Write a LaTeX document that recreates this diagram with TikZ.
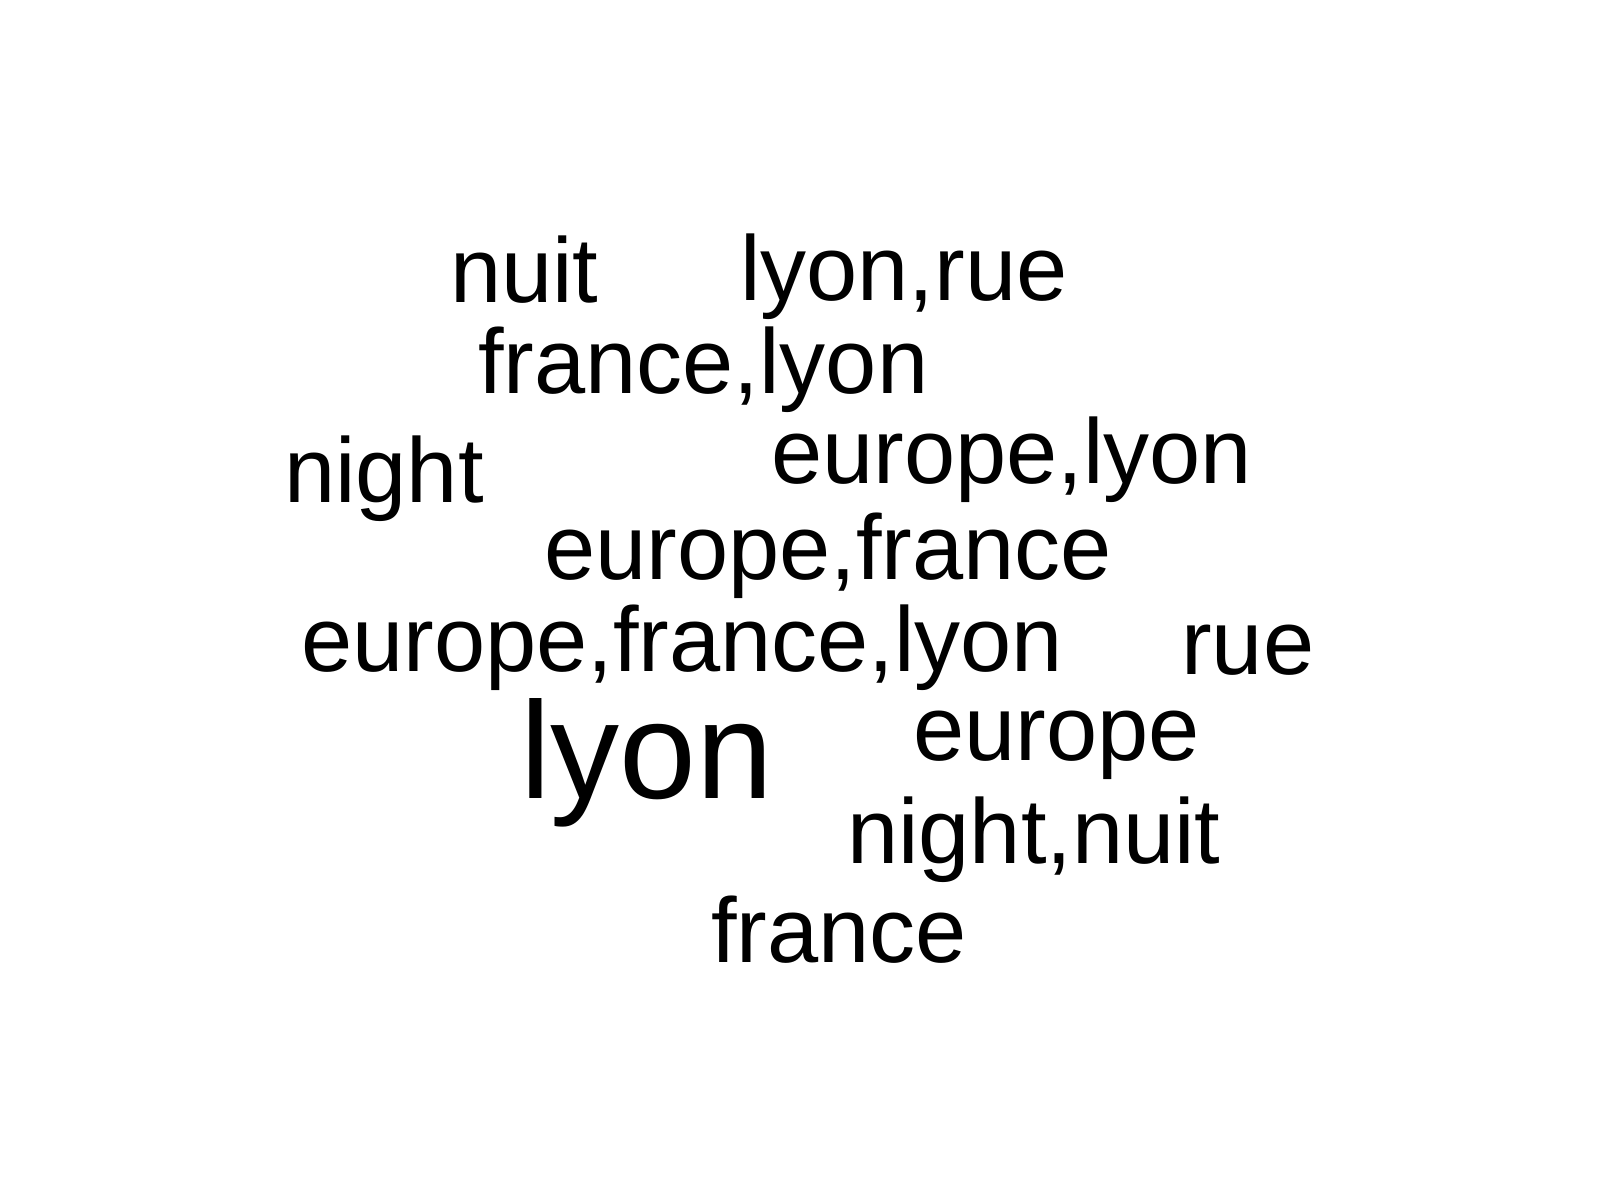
\documentclass[tikz,border=0pt]{standalone}
\usepackage{fontspec}
\setmainfont{Liberation Sans}
\begin{document}
\begin{tikzpicture}[x=1pt,y=1pt,yscale=-1,
  word/.style={anchor=base west,inner sep=0pt,font=\fontsize{92}{92}\selectfont},
  topword/.style={anchor=base west,inner sep=0pt,font=\fontsize{138}{138}\selectfont}]
			%set diagram left start at 0, and has height of 1200
			\useasboundingbox (0,0) rectangle (1600,1200);
			
			% Text Node
			\draw (450,302) node (nuit) [word]    {nuit};
			% Text Node
			\draw (740,300) node (lyonrue) [word]    {lyon,rue};
			% Text Node
			\draw (478,393) node (francelyon) [word]    {france,lyon};
			% Text Node
			\draw (284,502) node (night) [word]    {night};
			% Text Node
			\draw (771,483) node (europelyon) [word]    {europe,lyon};
			% Text Node
			\draw (544,579) node (europefrance) [word]    {europe,france};
			% Text Node
			\draw (301,671) node (europefrancelyon) [word]    {europe,france,lyon};
			% Text Node
			\draw (1181,674) node (rue) [word]    {rue};
			% Text Node
			\draw (520,798) node (lyon) [topword]    {lyon};
			% Text Node
			\draw (913,760) node (europe) [word]    {europe};
			% Text Node
			\draw (847,863) node (nightnuit) [word]    {night,nuit};
			% Text Node
			\draw (711,962) node (france) [word]    {france};
			
		\end{tikzpicture}
\end{document}
